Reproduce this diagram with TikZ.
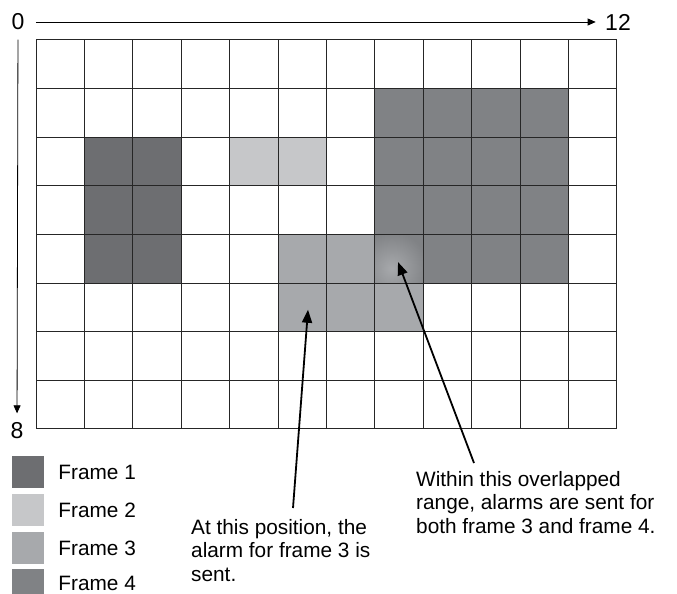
\documentclass[tikz,border=0pt]{standalone}
\usepackage{fontspec}
\setmainfont{Liberation Sans}
\usepackage{tikz}
\usetikzlibrary{positioning,arrows.meta}
\definecolor{frameone}{HTML}{6D6E71}
\definecolor{frametwo}{HTML}{C6C7C9}
\definecolor{framethree}{HTML}{A7A9AC}
\definecolor{framefour}{HTML}{808285}
\tikzset{
  key/.style={minimum size=32pt, inner sep=0pt},
  keytext/.style={right=14pt of #1, inner sep=0pt},
  note/.style={anchor=north west, align=left, inner sep=0pt},
  pointer/.style={line width=1.8pt, -{Triangle[length=13pt,width=10pt]}},
  axis/.style={line width=0.8pt, -{Triangle[length=8pt,width=7pt]}},
  axislabel/.style={font=\fontsize{23}{27}\selectfont},
  gridline/.style={line width=1pt, draw=black!85}
}

\begin{document}
\begin{tikzpicture}[x=1pt, y=-1pt, font=\fontsize{20.8}{23.5}\selectfont]
      \useasboundingbox (0, 0) rectangle (677, 594);

      % axes
      \node(Zero)[axislabel] at (18, 22) {0};
      \node(Twelve)[axislabel] at (618, 22) {12};
      \node(Eight)[axislabel] at (17, 431) {8};
      \draw[axis, shorten <=8pt, shorten >=6pt] (Zero) -- (Twelve);
      \draw[axis, shorten <=6pt, shorten >=6pt] (Zero) -- (Eight);

      % the 12 x 8 grid
      \begin{scope}[shift={(36pt, -40pt)}, x=48.4pt, y=-48.6pt]
        \fill[frameone] (1, 2) rectangle (3, 5);
        \fill[frametwo] (4, 2) rectangle (6, 3);
        \fill[framethree] (5, 4) rectangle (8, 6);
        \fill[framefour] (7, 1) rectangle (11, 5);
        \begin{scope}
          \clip (7, 4) rectangle (8, 5);
          \shade[inner color=framethree, outer color=framefour] (6.6, 3.95) rectangle (8.1, 5.45);
        \end{scope}
        \foreach \c in {0,...,12} \draw[gridline] (\c, 0) -- (\c, 8);
        \foreach \r in {0,...,8} \draw[gridline] (0, \r) -- (12, \r);
        \coordinate(TipThree) at (5.62, 5.55);
        \coordinate(TipFour) at (7.48, 4.57);
      \end{scope}

      % legend
      \node(Key1)[key, fill=frameone] at (28, 472) {};
      \node(Key2)[key, fill=frametwo] at (28, 510) {};
      \node(Key3)[key, fill=framethree] at (28, 548) {};
      \node(Key4)[key, fill=framefour] at (28, 585) {};
      \node(Label1)[keytext=Key1] {Frame 1};
      \node(Label2)[keytext=Key2] {Frame 2};
      \node(Label3)[keytext=Key3] {Frame 3};
      \node(Label4)[keytext=Key4, yshift=1.5pt] {Frame 4};

      % callouts
      \node(NoteThree)[note] at (191, 519) {At this position, the\\alarm for frame 3 is\\sent.};
      \node(NoteFour)[note] at (416, 471) {Within this overlapped\\range, alarms are sent for\\both frame 3 and frame 4.};
      \coordinate(TailThree) at (293, 508);
      \coordinate(TailFour) at (474, 463);
      \draw[pointer] (TailThree) -- (TipThree);
      \draw[pointer] (TailFour) -- (TipFour);
    \end{tikzpicture}
\end{document}
